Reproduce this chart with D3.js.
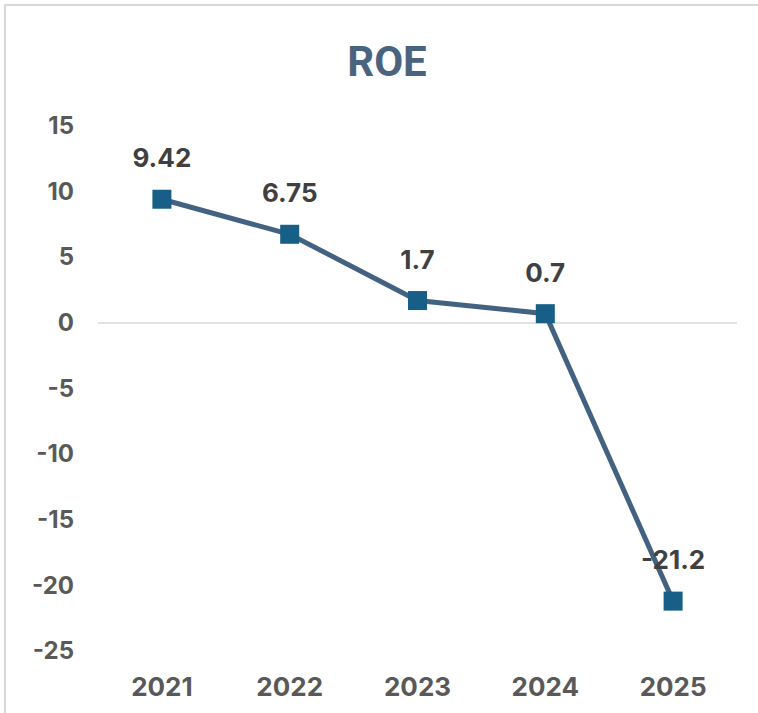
<!DOCTYPE html>
<html>
<head>
<meta charset="utf-8">
<script src="https://cdn.jsdelivr.net/npm/d3@7"></script>
<style>
  body { margin: 0; background: #fff; }
  svg { display: block; }
</style>
</head>
<body>
<div id="canvas"></div>
<script>
// data
var years = ["2021", "2022", "2023", "2024", "2025"]
var roe = [9.42, 6.75, 1.7, 0.7, -21.2]
var roeLabels = ["9.42", "6.75", "1.7", "0.7", "-21.2"]
var yTicks = [15, 10, 5, 0, -5, -10, -15, -20, -25]

var W = 758, H = 713
var titleFont = "Roboto, 'Open Sans', sans-serif"
var font = "Inter, Roboto, sans-serif"

var svg = d3.select("#canvas")
  .append("svg")
    .attr("width", W)
    .attr("height", H)

// chart border (clipped on right and bottom like the reference)
svg.append("rect")
  .attr("x", 5).attr("y", 5)
  .attr("width", 800).attr("height", 800)
  .attr("fill", "none")
  .attr("stroke", "#d9d9d9")
  .attr("stroke-width", 2)

// title
svg.append("text")
  .attr("x", 387).attr("y", 76)
  .attr("text-anchor", "middle")
  .style("font-family", titleFont)
  .style("font-weight", "bold")
  .style("font-size", "42px")
  .style("fill", "#4a6480")
  .text("ROE")

var x = d3.scaleBand()
  .domain(years)
  .range([98, 737])

var y = d3.scaleLinear()
  .domain([-25, 15])
  .range([651, 126])

// y axis (labels only), plain hyphen for negatives
var yAxis = svg.append("g")
  .attr("transform", "translate(74,0)")
  .call(d3.axisLeft(y).tickValues(yTicks).tickSize(0).tickPadding(0)
    .tickFormat(function(d) { return String(d) }))
yAxis.select(".domain").remove()
yAxis.selectAll("text")
  .style("font-family", font)
  .style("font-weight", "bold")
  .style("font-size", "24px")
  .style("fill", "#595959")

// zero line
svg.append("line")
  .attr("x1", x.range()[0]).attr("x2", x.range()[1])
  .attr("y1", y(0)).attr("y2", y(0))
  .attr("stroke", "#d9d9d9")
  .attr("stroke-width", 1.5)

// x axis (labels only)
var xAxis = svg.append("g")
  .attr("transform", "translate(0,677)")
  .call(d3.axisBottom(x).tickSize(0).tickPadding(0))
xAxis.select(".domain").remove()
xAxis.selectAll("text")
  .attr("dy", "0.72em")
  .style("font-family", font)
  .style("font-weight", "bold")
  .style("font-size", "26px")
  .style("fill", "#595959")

var pts = years.map(function(d, i) { return {year: d, value: roe[i], label: roeLabels[i]} })
var cx = function(d) { return x(d.year) + x.bandwidth() / 2 }

// line
svg.append("path")
  .datum(pts)
  .attr("fill", "none")
  .attr("stroke", "#436180")
  .attr("stroke-width", 5)
  .attr("d", d3.line().x(cx).y(function(d) { return y(d.value) }))

// markers
var ms = 19
svg.selectAll("rect.marker")
  .data(pts)
  .enter()
  .append("rect")
    .attr("class", "marker")
    .attr("x", function(d) { return cx(d) - ms / 2 })
    .attr("y", function(d) { return y(d.value) - ms / 2 })
    .attr("width", ms)
    .attr("height", ms)
    .attr("fill", "#175f87")

// data labels
svg.selectAll("text.lbl")
  .data(pts)
  .enter()
  .append("text")
    .attr("class", "lbl")
    .attr("x", cx)
    .attr("y", function(d) { return y(d.value) - 32 })
    .attr("text-anchor", "middle")
    .style("font-family", font)
    .style("font-weight", "bold")
    .style("font-size", "26px")
    .style("fill", "#404040")
    .text(function(d) { return d.label })
</script>
</body>
</html>
